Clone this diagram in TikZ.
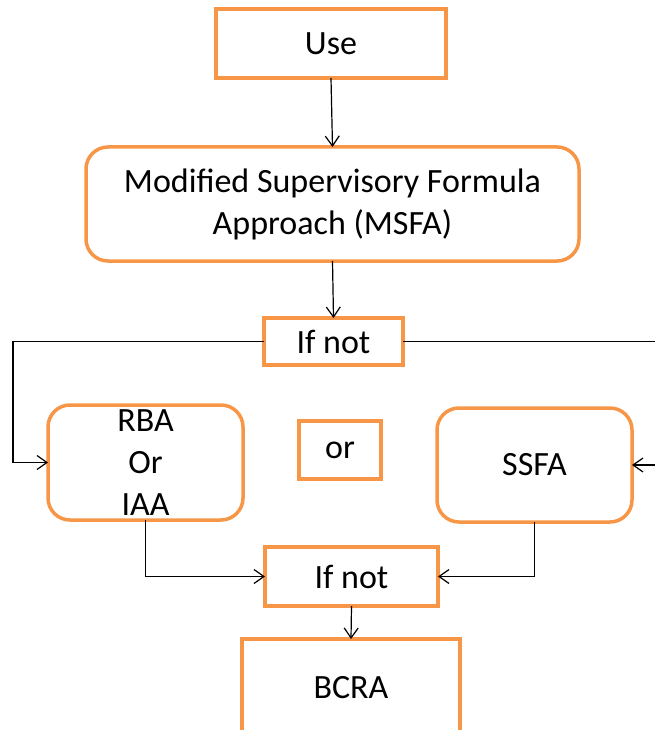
\documentclass[tikz,border=0pt]{standalone}
\usepackage{fontspec}
\setmainfont{Carlito}
\usetikzlibrary{arrows.meta}
\definecolor{boxorange}{HTML}{F79646}
\begin{document}
\begin{tikzpicture}[x=1pt,y=-1pt,
  every node/.style={font=\fontsize{34}{42}\selectfont, inner sep=0pt, outer sep=0pt},
  sqbox/.style={draw=boxorange, line width=3.5pt, fill=white, align=center},
  rndbox/.style={sqbox, rounded corners=22pt},
  conn/.style={draw=black, line width=1.2pt, -{Straight Barb[length=10pt,width=14pt,line width=1.2pt]}},
  plain/.style={draw=black, line width=1.2pt}]
\useasboundingbox (0,0) rectangle (655,730);
\fill[white] (0,0) rectangle (655,730);

\node[sqbox, minimum width=230pt, minimum height=69pt] (use) at (331,43.5) {Use};
\node[rndbox, minimum width=493pt, minimum height=114pt] (msfa) at (332.5,204) {Modified Supervisory Formula\\Approach (MSFA)};
\node[sqbox, minimum width=139pt, minimum height=47pt] (ifnot1) at (333.5,341.5) {If not};
\node[rndbox, minimum width=195pt, minimum height=115pt] (rba) at (145.5,462.5) {};
\node (rbatext) at (145.5,463) [align=center] {RBA\\Or\\IAA};
\node[sqbox, minimum width=82pt, minimum height=58pt] (or) at (340,450) {or};
\node[rndbox, minimum width=195pt, minimum height=114pt] (ssfa) at (534.5,465) {SSFA};
\node[sqbox, minimum width=173pt, minimum height=59pt] (ifnot2) at (351.5,576.5) {If not};
\node[sqbox, minimum width=218pt, minimum height=100pt] (bcra) at (351,689) {};
\node (bcratext) at (351,688) {BCRA};

\coordinate (lc) at (13,400);
\coordinate (rc) at (670,400);

\draw[conn] (use.south) -- (msfa.north);
\draw[conn] (msfa.south) -- (ifnot1.north);
\draw[conn] (ifnot1.west) -| (lc) |- (rba.west);
\draw[conn] (ifnot1.east) -| (rc) |- (ssfa.east);
\draw[conn] (rba.south) |- (ifnot2.west);
\draw[conn] (ssfa.south) |- (ifnot2.east);
\draw[conn] (ifnot2.south) -- (bcra.north);
\end{tikzpicture}
\end{document}
